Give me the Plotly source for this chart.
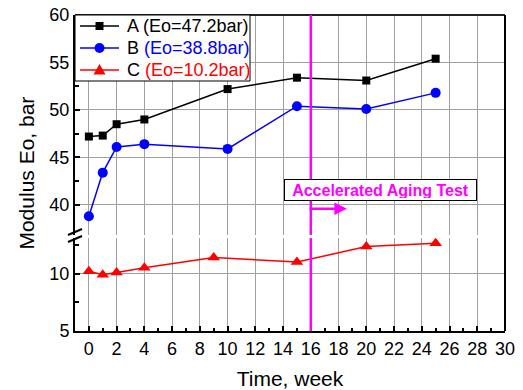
import plotly.graph_objects as go

# Time (weeks) and modulus (bar) for the three samples
weeks_ab = [0, 1, 2, 4, 10, 15, 20, 25]
modulus_a = [47.2, 47.3, 48.5, 49.0, 52.2, 53.4, 53.1, 55.4]
modulus_b = [38.8, 43.4, 46.1, 46.4, 45.9, 50.4, 50.1, 51.8]

weeks_c = [0, 1, 2, 4, 9, 15, 20, 25]
modulus_c = [10.2, 9.9, 10.1, 10.5, 11.4, 11.0, 12.35, 12.65]

series_labels = ["A", "B", "C"]
series_notes = ["(Eo=47.2bar)", "(Eo=38.8bar)", "(Eo=10.2bar)"]
series_colors = ["#000000", "#0000FF", "#FF0000"]

aging_start = 16          # week where accelerated aging begins
aging_label = "Accelerated Aging Test"

x_ticks = list(range(0, 31, 2))
lower_ticks = [5, 10]
upper_ticks = [40, 45, 50, 55, 60]

FONT = "Liberation Sans, Arial, sans-serif"
MAGENTA = "#FF00FF"

fig = go.Figure()

fig.add_trace(go.Scatter(
    x=weeks_ab, y=modulus_a, name=series_labels[0], yaxis="y2",
    mode="lines+markers", showlegend=False,
    line=dict(color=series_colors[0], width=1.5),
    marker=dict(symbol="square", size=8, color=series_colors[0]),
))
fig.add_trace(go.Scatter(
    x=weeks_ab, y=modulus_b, name=series_labels[1], yaxis="y2",
    mode="lines+markers", showlegend=False,
    line=dict(color=series_colors[1], width=1.5),
    marker=dict(symbol="circle", size=10, color=series_colors[1]),
))
fig.add_trace(go.Scatter(
    x=weeks_c, y=modulus_c, name=series_labels[2], yaxis="y",
    mode="lines+markers", showlegend=False,
    line=dict(color=series_colors[2], width=1.5),
    marker=dict(symbol="triangle-up", size=11, color=series_colors[2]),
))

grid = "#A0A0A0"
axis_common = dict(
    showline=True, linecolor="black", linewidth=2,
    ticks="inside", tickcolor="black", tickwidth=2, ticklen=5,
    showgrid=True, gridcolor=grid, gridwidth=1,
    zeroline=False, automargin=False,
    tickfont=dict(family=FONT, size=18, color="black"),
)

BREAK = 0.299  # split point of the broken y axis, paper units

fig.update_layout(
    width=523, height=390,
    margin=dict(l=75, r=18, t=15, b=59, autoexpand=False),
    paper_bgcolor="white", plot_bgcolor="white",
    font=dict(family=FONT, color="black"),
    showlegend=False,
    xaxis=dict(
        axis_common,
        range=[-1, 30],
        tickvals=x_ticks,
        minor=dict(dtick=1, tick0=0, ticks="inside", ticklen=3,
                   tickcolor="black", tickwidth=2, showgrid=False),
        title=dict(text="Time, week", font=dict(family=FONT, size=21), standoff=14),
        anchor="y",
    ),
    yaxis=dict(
        axis_common,
        domain=[0, BREAK - 0.005],
        range=[5, 13.09],
        tickvals=lower_ticks,
        minor=dict(tickvals=[7.5, 12.5], ticks="inside", ticklen=4,
                   tickcolor="black", tickwidth=2, showgrid=False),
        anchor="x",
    ),
    yaxis2=dict(
        axis_common,
        domain=[BREAK + 0.005, 1],
        range=[36.84, 60],
        tickvals=upper_ticks,
        minor=dict(tickvals=[42.5, 47.5, 52.5, 57.5], ticks="inside", ticklen=4,
                   tickcolor="black", tickwidth=2, showgrid=False),
        anchor="x",
    ),
)

# y-axis title spanning both segments
fig.add_annotation(
    text="Modulus Eo, bar", xref="paper", yref="paper",
    x=-0.115, y=0.5, textangle=-90, showarrow=False,
    xanchor="center", yanchor="middle",
    font=dict(family=FONT, size=21, color="black"),
)

# frame: top and right borders
fig.add_shape(type="line", xref="paper", yref="paper", x0=0, x1=1, y0=1, y1=1,
              line=dict(color="#222222", width=2))
fig.add_shape(type="line", xref="paper", yref="paper", x0=1, x1=1, y0=0, y1=1,
              line=dict(color="black", width=2))

# axis-break marks on the left axis
for dy in (0.0, -7.0):
    fig.add_shape(
        type="line", xref="paper", yref="paper",
        xsizemode="pixel", xanchor=0, ysizemode="pixel", yanchor=BREAK,
        x0=-7, x1=7, y0=1.5 + dy, y1=7.5 + dy,
        line=dict(color="black", width=2),
    )

# start of the accelerated aging period (interrupted at the axis break)
for yd in ("y domain", "y2 domain"):
    fig.add_shape(type="line", xref="x", yref=yd,
                  x0=aging_start, x1=aging_start, y0=0, y1=1,
                  line=dict(color=MAGENTA, width=2.5))

fig.add_annotation(
    x=aging_start + 2.6, y=39.6, ax=aging_start - 0.2, ay=39.6,
    xref="x", yref="y2", axref="x", ayref="y2",
    text="", showarrow=True, arrowhead=2, arrowsize=1, arrowwidth=2.5,
    arrowcolor=MAGENTA,
)

fig.add_annotation(
    x=21.0, y=41.6, xref="x", yref="y2",
    text="<b>" + aging_label + "</b>", showarrow=False,
    font=dict(family=FONT, size=16, color=MAGENTA),
    bgcolor="white", bordercolor="black", borderwidth=1, borderpad=2,
    width=187, height=16,
)

# legend box in the top-left corner, laid out in pixels from that corner
def corner_shape(**kw):
    base = dict(xref="paper", yref="paper", xsizemode="pixel", xanchor=0,
                ysizemode="pixel", yanchor=1, layer="above")
    base.update(kw)
    fig.add_shape(**base)

corner_shape(type="rect", x0=0, x1=175, y0=0, y1=-66,
             fillcolor="white", line=dict(color="black", width=1))

row_offsets = [-11, -33, -55]
for i, (lab, note, col) in enumerate(zip(series_labels, series_notes, series_colors)):
    yc = row_offsets[i]
    corner_shape(type="line", x0=5, x1=44, y0=yc, y1=yc, line=dict(color=col, width=1.5))
    if i == 0:
        corner_shape(type="rect", x0=20.5, x1=28.5, y0=yc - 4, y1=yc + 4,
                     fillcolor=col, line=dict(width=0))
    elif i == 1:
        corner_shape(type="circle", x0=19.5, x1=29.5, y0=yc - 5, y1=yc + 5,
                     fillcolor=col, line=dict(width=0))
    else:
        corner_shape(type="path",
                     path=f"M 18.5,{yc - 4.5} L 30.5,{yc - 4.5} L 24.5,{yc + 6} Z",
                     fillcolor=col, line=dict(width=0))
    note_html = note if i == 0 else f"<span style='color:{col}'>{note}</span>"
    fig.add_annotation(
        xref="paper", yref="paper", x=0, y=1, xanchor="left", yanchor="middle",
        xshift=50, yshift=yc, showarrow=False,
        text=f"{lab} {note_html}",
        font=dict(family=FONT, size=18, color="black"),
    )

fig.write_html("out.html")
